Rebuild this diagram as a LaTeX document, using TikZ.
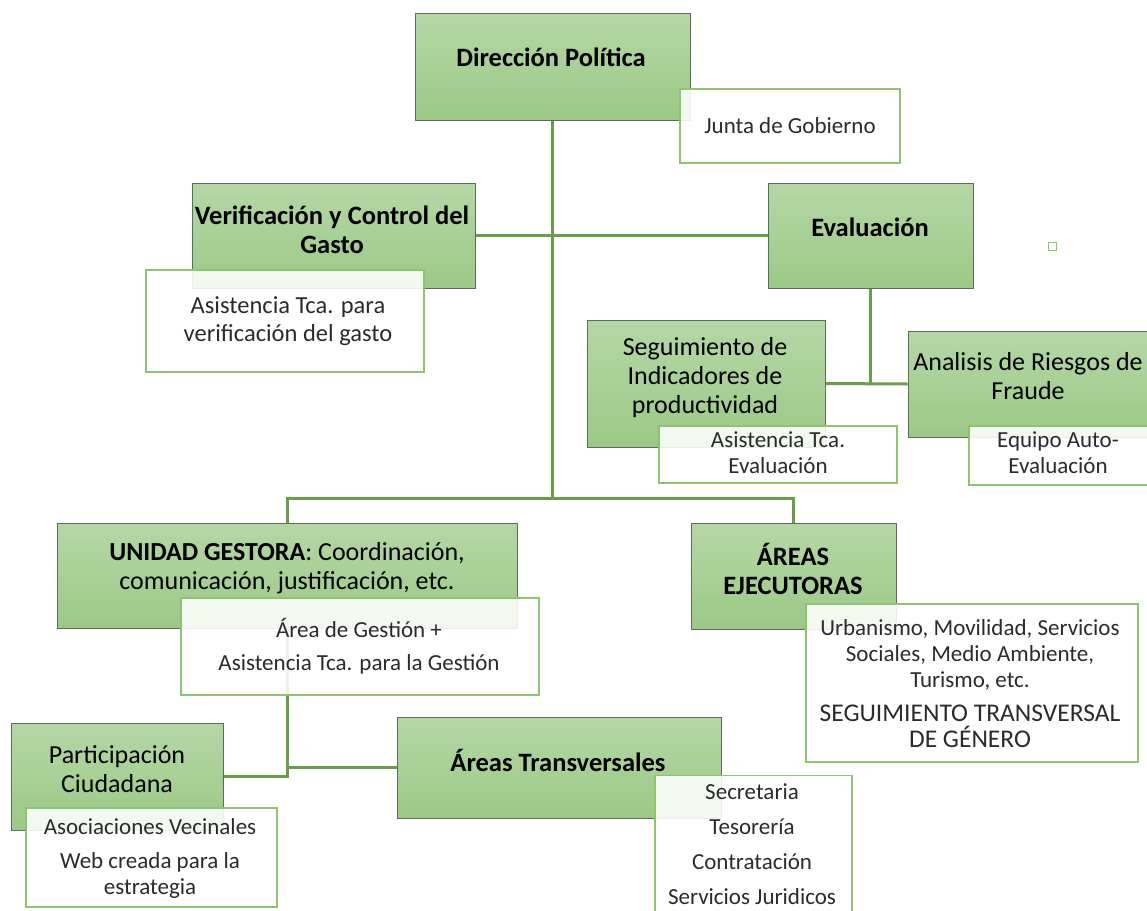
\documentclass[tikz,border=0pt]{standalone}
\usepackage{fontspec}
\setmainfont{Carlito}
\pgfdeclarelayer{background}
\pgfsetlayers{background,main}
\definecolor{gTop}{HTML}{B5D7A6}
\definecolor{gBot}{HTML}{9CC987}
\definecolor{gBorder}{HTML}{5E6B57}
\definecolor{wBorder}{HTML}{8EC46F}
\definecolor{conncol}{HTML}{6A9C4B}
\definecolor{wText}{HTML}{2B2B2B}
\tikzset{
  gbox/.style={draw=gBorder, line width=1pt, top color=gTop, bottom color=gBot, inner sep=0pt, rectangle},
  wbox/.style={draw=wBorder, line width=1.6pt, fill=white, fill opacity=0.88, inner sep=0pt, rectangle},
  gtext/.style={inner sep=0pt, align=center, text=black, font=\fontsize{26}{29}\selectfont},
  gbold/.style={gtext, font=\fontsize{26.5}{29}\selectfont\bfseries},
  wtext/.style={inner sep=0pt, align=center, text=wText, font=\fontsize{23}{26}\selectfont},
  conn/.style={draw=conncol, line width=3pt},
}
\begin{document}
\begin{tikzpicture}[x=1pt, y=-1pt]
\useasboundingbox (0,0) rectangle (1147,910);
% green boxes
\node[gbox, minimum width=275, minimum height=107] (dir) at (552.5,66.5) {};
\node[gbold] (dirt) at (551,57) {Dirección Política};
\node[gbox, minimum width=283, minimum height=105] (ver) at (333.5,235.5) {};
\node[gbold] (vert) at (332,229.5) {Verificación y Control del\\Gasto};
\node[gbox, minimum width=205, minimum height=105] (eva) at (870.5,235.5) {};
\node[gbold] (evat) at (870,227) {Evaluación};
\node[gbox, minimum width=238, minimum height=127] (seg) at (706,383.5) {};
\node[gtext] (segt) at (705,377.5) {Seguimiento de\\Indicadores de\\productividad};
\node[gbox, minimum width=250, minimum height=106] (ana) at (1033,384) {};
\node[gtext] (anat) at (1028,376) {Analisis de Riesgos de\\Fraude};
\node[gbox, minimum width=460, minimum height=105] (ug) at (287,575.5) {};
\node[gtext] (ugt) at (287,568) {\textbf{UNIDAD GESTORA}: Coordinación,\\comunicación, justificación, etc.};
\node[gbox, minimum width=205, minimum height=106] (ae) at (793.5,576) {};
\node[gbold] (aet) at (793,569) {ÁREAS\\EJECUTORAS};
\node[gbox, minimum width=212, minimum height=107] (pc) at (117,776.5) {};
\node[gtext] (pct) at (117,769) {Participación\\Ciudadana};
\node[gbox, minimum width=324, minimum height=101] (at) at (559,767.5) {};
\node[gbold] (att) at (558,760) {Áreas Transversales};
% white boxes
\node[wbox, minimum width=220, minimum height=74] (jg) at (790,126) {};
\node[wtext] (jgt) at (790,126) {Junta de Gobierno};
\node[wbox, minimum width=278, minimum height=102] (av) at (285,321) {};
\node[wtext, font=\fontsize{24.5}{28}\selectfont] (avt) at (288,321.5) {Asistencia Tca. para\\verificación del gasto};
\node[wbox, minimum width=238, minimum height=57] (ate) at (778,454.5) {};
\node[wtext] (atet) at (778,453) {Asistencia Tca.\\Evaluación};
\node[wbox, minimum width=190, minimum height=59] (eqa) at (1064,455.5) {};
\node[wtext] (eqat) at (1058,453) {Equipo Auto-\\Evaluación};
\node[wbox, minimum width=358, minimum height=97] (ag) at (360,646.5) {};
\node[wtext] (agt) at (359,646.5) {Área de Gestión +\\[7pt]Asistencia Tca. para la Gestión};
\node[wbox, minimum width=332, minimum height=158] (urb) at (972,683) {};
\node[wtext] (urbt) at (970,683.5) {Urbanismo, Movilidad, Servicios\\Sociales, Medio Ambiente,\\Turismo, etc.\\[8pt]{\fontsize{25.5}{26}\selectfont SEGUIMIENTO TRANSVERSAL}\\{\fontsize{25.5}{26}\selectfont DE GÉNERO}};
\node[wbox, minimum width=197, minimum height=139] (sec) at (753.5,845) {};
\node[wtext] (sect) at (752,844.5) {Secretaria\\[9pt]Tesorería\\[9pt]Contratación\\[9pt]Servicios Juridicos};
\node[wbox, minimum width=251, minimum height=99] (asv) at (151.5,857.5) {};
\node[wtext] (asvt) at (150,858) {Asociaciones Vecinales\\[8pt]Web creada para la\\estrategia};
% small square
\node[draw=wBorder, line width=1pt, fill=white, inner sep=0pt, minimum size=8] (sq) at (1052,246) {};
% connectors
\coordinate (hub) at (552.5,498);
\begin{pgfonlayer}{background}
\draw[conn] (dir.south) -- (hub);
\draw[conn] (ver.east) -- (eva.west);
\draw[conn] (eva.south) -- (eva.south |- seg.east);
\draw[conn] (seg.east) -- (ana.west);
\draw[conn] (ug.north) -- (ug.north |- hub) -- (ae.north |- hub) -- (ae.north);
\draw[conn] (ug.south) |- (pc.east);
\draw[conn] (ug.south) |- (at.west);
\end{pgfonlayer}
\end{tikzpicture}
\end{document}
